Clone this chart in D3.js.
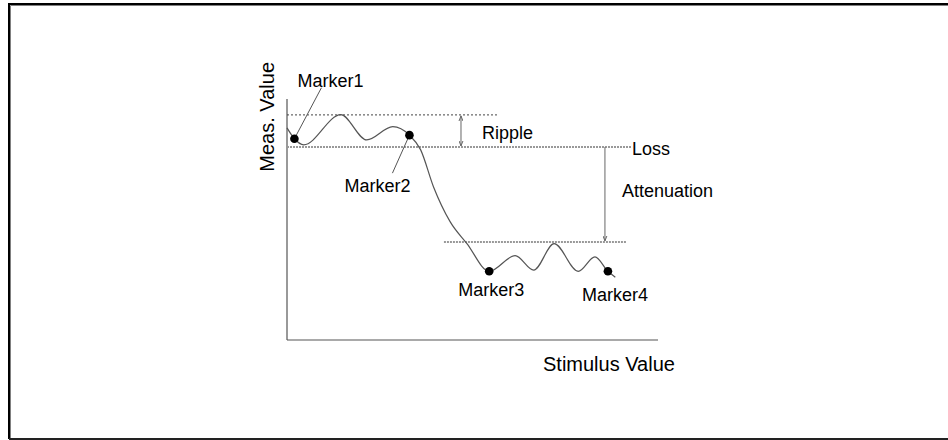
<!DOCTYPE html>
<html>
<head>
<meta charset="utf-8">
<script src="https://cdn.jsdelivr.net/npm/d3@7"></script>
<style>
  html, body { margin: 0; padding: 0; background: #fff; }
  svg { display: block; }
  text { font-family: "Liberation Sans", Arial, sans-serif; fill: #000; }
</style>
</head>
<body>
<div id="chart"></div>
<script>
// Stimulus/response curve (arbitrary units)
const stimulus = [0, 2, 4.5, 14.5, 21.5, 28.5, 33, 36, 39.5, 44, 48.5, 54.5, 61.5, 66.5, 72, 78.5, 83, 86.5, 88.5];
const measured = [88, 83.5, 81, 93.5, 83, 88.5, 85, 79, 63.5, 49, 40, 28.5, 35, 29, 40, 28.5, 34.5, 28.5, 26];

// Marked points (index into the curve)
const markerNames = ['Marker1', 'Marker2', 'Marker3', 'Marker4'];
const markerIndex = [1, 6, 11, 17];

// Reference levels
const rippleTop = 93.4;
const lossLevel = 80.1;
const attenLevel = 40.7;

const width = 948,
  height = 440;

const x = d3.scaleLinear().domain([0, 100]).range([287, 658]);
const y = d3.scaleLinear().domain([0, 100]).range([340, 99]);

const svg = d3
  .select('#chart')
  .append('svg')
  .attr('width', width)
  .attr('height', height);

// frame
svg.append('path')
  .attr('d', 'M9,439 V4 H948')
  .attr('fill', 'none')
  .attr('stroke', '#000')
  .attr('stroke-width', 2);
svg.append('path')
  .attr('d', 'M10.5,439 V5.5 H948')
  .attr('fill', 'none')
  .attr('stroke', '#808080')
  .attr('stroke-width', 1);
svg.append('line')
  .attr('x1', 9).attr('x2', 948)
  .attr('y1', 439).attr('y2', 439)
  .attr('stroke', '#222')
  .attr('stroke-width', 2);

// arrow heads
const defs = svg.append('defs');
defs.append('marker')
  .attr('id', 'head')
  .attr('viewBox', '-5 -10 10 12')
  .attr('markerWidth', 10)
  .attr('markerHeight', 12)
  .attr('markerUnits', 'userSpaceOnUse')
  .attr('refX', 0)
  .attr('refY', 0)
  .attr('orient', 'auto-start-reverse')
  .append('path')
  .attr('d', 'M-3.5,-9 L0,0 L3.5,-9')
  .attr('transform', 'rotate(-90)')
  .attr('fill', 'none')
  .attr('stroke', '#666')
  .attr('stroke-width', 1);

// axes (plain lines, no ticks)
svg.append('line')
  .attr('x1', x(0)).attr('x2', x(0))
  .attr('y1', y(100)).attr('y2', y(0))
  .attr('stroke', '#555')
  .attr('stroke-width', 1.2);
svg.append('line')
  .attr('x1', x(0)).attr('x2', x(100))
  .attr('y1', y(0)).attr('y2', y(0))
  .attr('stroke', '#555')
  .attr('stroke-width', 1.2);

svg.append('text')
  .attr('x', 543)
  .attr('y', 371)
  .style('font-size', '20px')
  .text('Stimulus Value');

svg.append('text')
  .attr('transform', `translate(274,${y(93.5) + 57}) rotate(-90)`)
  .style('font-size', '20px')
  .text('Meas. Value');

// reference lines
svg.append('line')
  .attr('x1', x(0)).attr('x2', x(56.6))
  .attr('y1', y(rippleTop)).attr('y2', y(rippleTop))
  .attr('stroke', '#444')
  .attr('stroke-width', 1)
  .attr('stroke-dasharray', '2,2');
svg.append('line')
  .attr('x1', x(0)).attr('x2', x(93))
  .attr('y1', y(lossLevel)).attr('y2', y(lossLevel))
  .attr('stroke', '#999')
  .attr('stroke-width', 2)
  .attr('stroke-dasharray', '2,1');
svg.append('line')
  .attr('x1', x(42.3)).attr('x2', x(91.6))
  .attr('y1', y(attenLevel)).attr('y2', y(attenLevel))
  .attr('stroke', '#999')
  .attr('stroke-width', 2)
  .attr('stroke-dasharray', '2,1');

// ripple arrow (both ends)
svg.append('line')
  .attr('x1', x(46.9)).attr('x2', x(46.9))
  .attr('y1', y(rippleTop) + 1).attr('y2', y(lossLevel) - 1)
  .attr('stroke', '#666')
  .attr('stroke-width', 1)
  .attr('marker-start', 'url(#head)')
  .attr('marker-end', 'url(#head)');

// attenuation arrow
svg.append('line')
  .attr('x1', x(85.7)).attr('x2', x(85.7))
  .attr('y1', y(lossLevel)).attr('y2', y(attenLevel) - 1)
  .attr('stroke', '#666')
  .attr('stroke-width', 1)
  .attr('marker-end', 'url(#head)');

svg.append('text').attr('x', 482).attr('y', 139).style('font-size', '18px').text('Ripple');
svg.append('text').attr('x', 632).attr('y', 155).style('font-size', '18px').text('Loss');
svg.append('text').attr('x', 622).attr('y', 197).style('font-size', '18px').text('Attenuation');

// curve
const pts = stimulus.map((s, i) => [s, measured[i]]);
const line = d3
  .line()
  .x((d) => x(d[0]))
  .y((d) => y(d[1]))
  .curve(d3.curveMonotoneX);

svg.append('path')
  .datum(pts)
  .attr('d', line)
  .attr('fill', 'none')
  .attr('stroke', '#555')
  .attr('stroke-width', 1.2);

// markers, labels and leader lines
const labelOffset = [
  { dx: 3, dy: -52, lead: [27, -51] },
  { dx: -65, dy: 57, lead: [-17, 38] },
  { dx: -31, dy: 25, lead: null },
  { dx: -26, dy: 30, lead: null },
];

markerIndex.forEach((idx, i) => {
  const cx = x(stimulus[idx]),
    cy = y(measured[idx]);
  const off = labelOffset[i];
  if (off.lead) {
    svg.append('line')
      .attr('x1', cx).attr('y1', cy)
      .attr('x2', cx + off.lead[0]).attr('y2', cy + off.lead[1])
      .attr('stroke', '#555')
      .attr('stroke-width', 1);
  }
  svg.append('circle')
    .attr('cx', cx)
    .attr('cy', cy)
    .attr('r', 4.3)
    .attr('fill', '#000');
  svg.append('text')
    .attr('x', cx + off.dx)
    .attr('y', cy + off.dy)
    .style('font-size', '18px')
    .text(markerNames[i]);
});
</script>
</body>
</html>
